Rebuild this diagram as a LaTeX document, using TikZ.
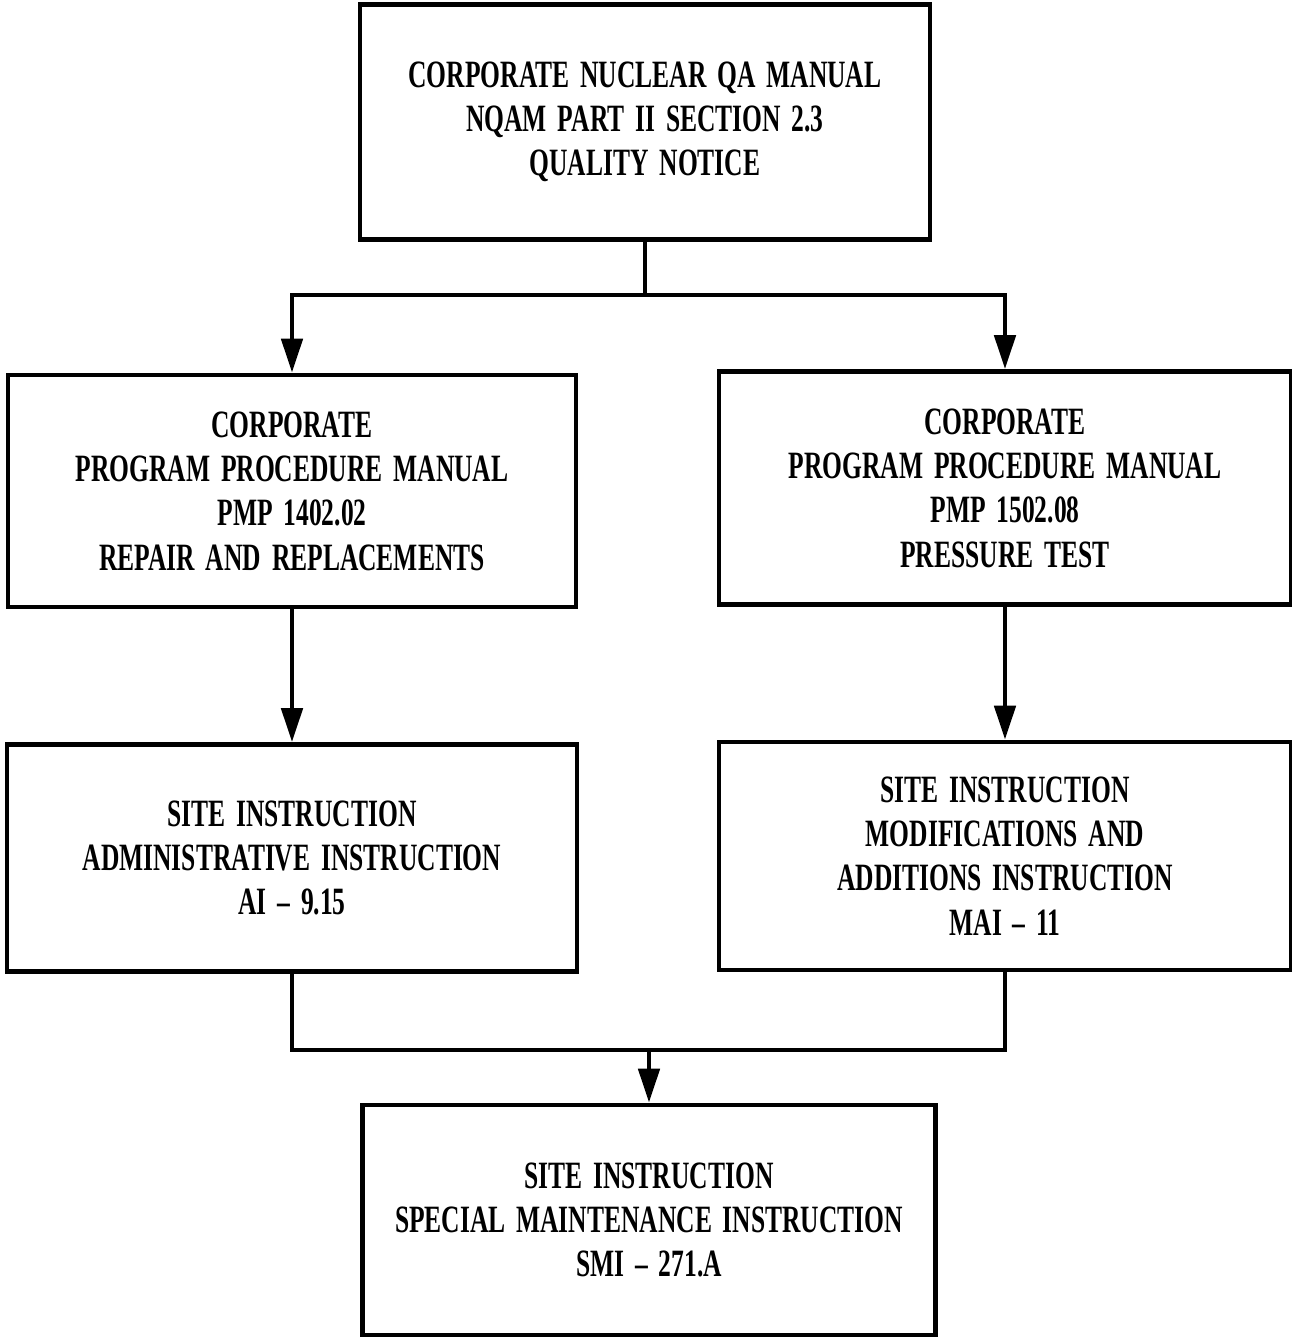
\documentclass[tikz,border=0pt]{standalone}
\usepackage{fontspec}
\setmainfont{Liberation Serif}[FakeStretch=0.66,WordSpace=1.7]
\usepackage{tikz}
\usetikzlibrary{calc}
\usetikzlibrary{arrows.meta}
\tikzstyle{box} = [rectangle,
minimum width=5.7cm,
minimum height=2.3cm, text centered, align=center,
draw=black, line width=1.3pt,
font=\bfseries\fontsize{11}{12.6}\selectfont]
\tikzstyle{arrow} = [line width=1.3pt,-{Triangle[length=3.4mm,width=2.1mm]}]
\tikzstyle{line} = [line width=1.3pt]

\begin{document}
\begin{tikzpicture}
    \useasboundingbox (0,0) rectangle (12.92,-13.38);

    % draw manuals
    \node[box, minimum height=2.35cm] (nqam) at (6.45,-1.22) {CORPORATE NUCLEAR QA MANUAL\\NQAM PART II SECTION 2.3\\QUALITY NOTICE};
    \node[box, minimum width=5.68cm, minimum height=2.32cm] (pmpl) at (2.92,-4.91) {CORPORATE\\PROGRAM PROCEDURE MANUAL\\PMP 1402.02\\REPAIR AND REPLACEMENTS};
    \node[box, minimum width=5.72cm, minimum height=2.33cm] (pmpr) at (10.05,-4.88) {CORPORATE\\PROGRAM PROCEDURE MANUAL\\PMP 1502.08\\PRESSURE TEST};

    % draw site instructions
    \node[box, minimum width=5.7cm, minimum height=2.27cm] (ai) at (2.92,-8.58) {SITE INSTRUCTION\\ADMINISTRATIVE INSTRUCTION\\AI -- 9.15};
    \node[box, minimum width=5.72cm, minimum height=2.28cm] (mai) at (10.05,-8.56) {SITE INSTRUCTION\\MODIFICATIONS AND\\ADDITIONS INSTRUCTION\\MAI -- 11};
    \node[box, minimum width=5.73cm, minimum height=2.3cm] (smi) at (6.49,-12.2) {SITE INSTRUCTION\\SPECIAL MAINTENANCE INSTRUCTION\\SMI -- 271.A};

    % draw connectors
    \coordinate (split) at (6.45,-2.95);
    \coordinate (join) at (6.49,-10.5);
    \draw[line] (nqam) -- (split);
    \draw[arrow] (split) -| (pmpl);
    \draw[arrow] (split) -| (pmpr);
    \draw[arrow] (pmpl) -- (ai);
    \draw[arrow] (pmpr) -- (mai);
    \draw[line] (ai.south) |- (join);
    \draw[line] (mai.south) |- (join);
    \draw[arrow] (join) -- (smi);

\end{tikzpicture}
\end{document}
